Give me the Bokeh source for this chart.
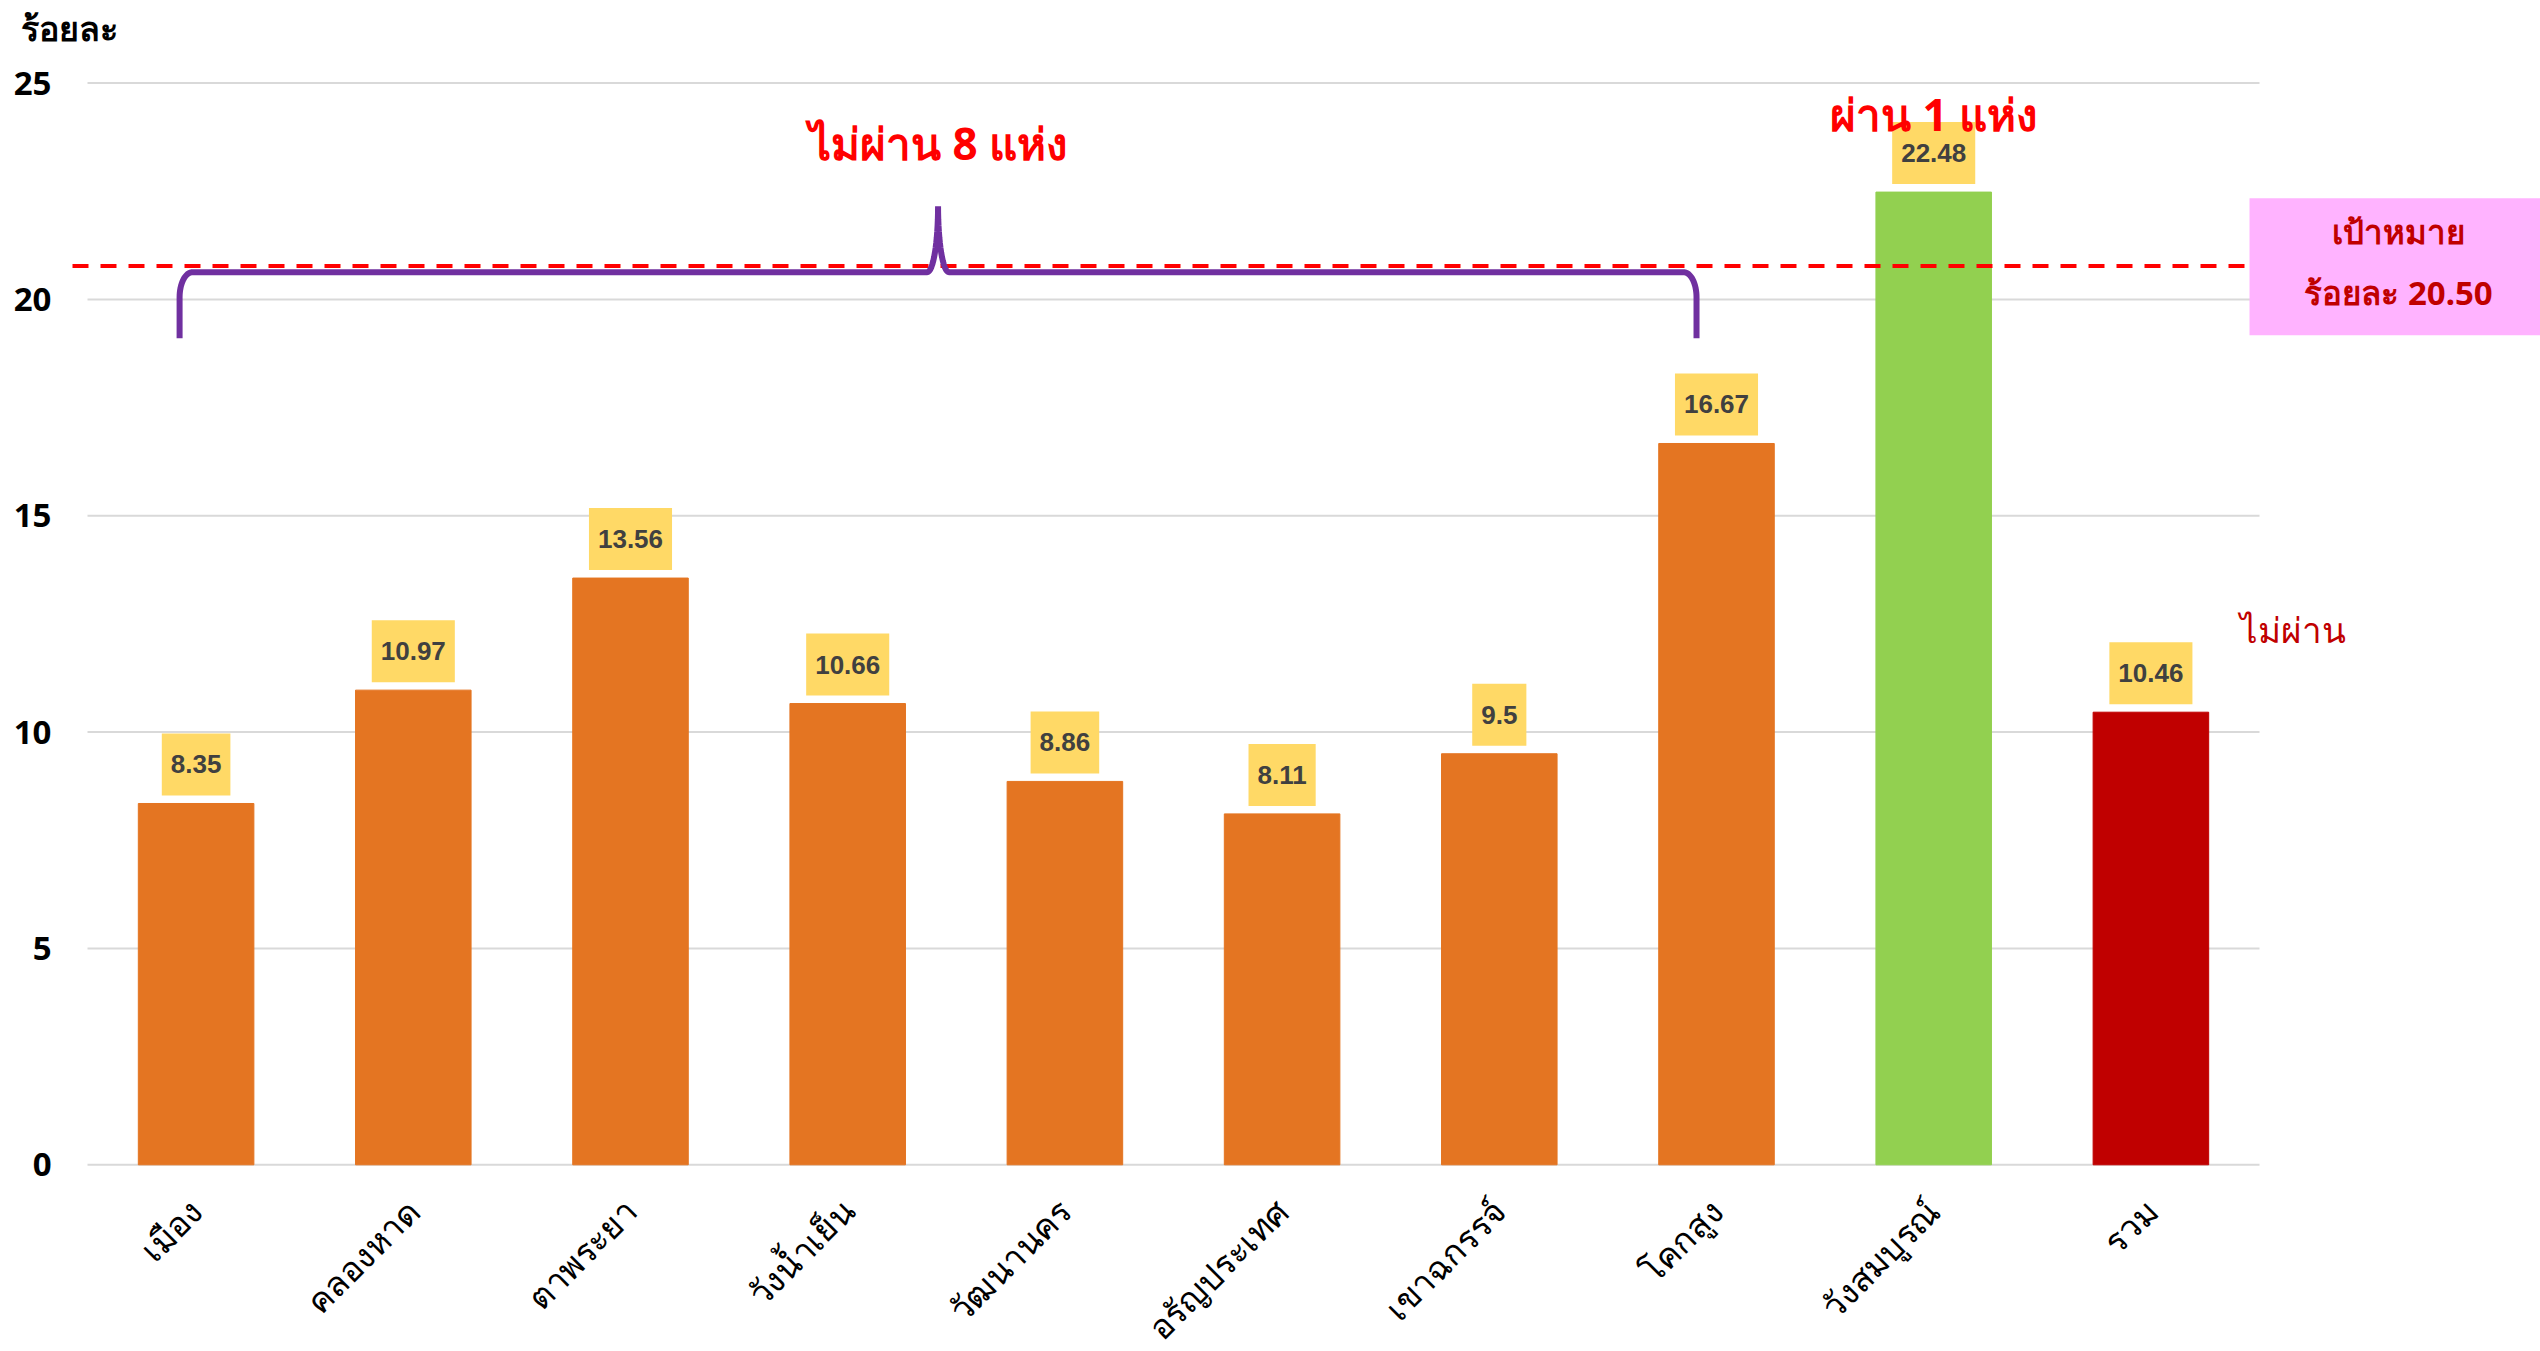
import math
from bokeh.plotting import figure
from bokeh.models import (Label, BoxAnnotation, Range1d,
                          FixedTicker, ColumnDataSource)
from bokeh.core.properties import value
from bokeh.embed import file_html
from bokeh.resources import INLINE

# ---------------- data ----------------
districts = ["เมือง", "คลองหาด", "ตาพระยา", "วังน้ำเย็น", "วัฒนานคร",
             "อรัญประเทศ", "เขาฉกรรจ์", "โคกสูง", "วังสมบูรณ์", "รวม"]
percent = [8.35, 10.97, 13.56, 10.66, 8.86, 8.11, 9.5, 16.67, 22.48, 10.46]
percent_labels = ["8.35", "10.97", "13.56", "10.66", "8.86", "8.11", "9.5",
                  "16.67", "22.48", "10.46"]
status = ["fail"] * 8 + ["pass", "total"]
y_ticks = [0, 5, 10, 15, 20, 25]
y_title = "ร้อยละ"
target_title = "เป้าหมาย"
target_text = "ร้อยละ 20.50"
target_drawn = 20.77          # where the dashed target line sits in the picture
fail_text = "ไม่ผ่าน 8 แห่ง"
pass_text = "ผ่าน 1 แห่ง"
total_text = "ไม่ผ่าน"

# ---------------- styles / layout ----------------
status_colors = {"fail": "#E47522", "pass": "#92D050", "total": "#C00000"}
bar_colors = [status_colors[s] for s in status]
THAI = "Noto Sans"
NUM = "Liberation Sans"

n = len(districts)
xpos = [i + 0.5 for i in range(n)]          # category centres

W, H = 2540, 1351
x0_px, px_per_cat = 87.0, 217.2              # where the category area starts
y0_px, px_per_unit = 1164.3, 43.27           # where the zero line sits
x_start = -x0_px / px_per_cat
x_end = (W - x0_px) / px_per_cat
y_end = y0_px / px_per_unit
y_start = -(H - y0_px) / px_per_unit
yaxis_at = -15 / px_per_cat

p = figure(x_range=Range1d(x_start, x_end), y_range=Range1d(y_start, y_end),
           width=W, height=H, output_backend="svg", toolbar_location=None,
           title=None, min_border=0, min_border_left=0, min_border_right=0,
           min_border_top=0, min_border_bottom=0)
p.outline_line_color = None
p.xgrid.grid_line_color = None
p.ygrid.grid_line_color = None

p.yaxis.fixed_location = yaxis_at
p.yaxis.ticker = FixedTicker(ticks=y_ticks)
p.yaxis.axis_line_color = None
p.yaxis.major_tick_line_color = None
p.yaxis.minor_tick_line_color = None
p.yaxis.major_tick_out = 0
p.yaxis.major_label_text_font = "Open Sans"
p.yaxis.major_label_text_font_style = "bold"
p.yaxis.major_label_text_font_size = "33px"
p.yaxis.major_label_text_color = "black"
p.yaxis.major_label_standoff = 21

p.xaxis.fixed_location = 0
p.xaxis.ticker = FixedTicker(ticks=xpos)
p.xaxis.major_label_overrides = {x: d for x, d in zip(xpos, districts)}
p.xaxis.axis_line_color = None
p.xaxis.major_tick_line_color = None
p.xaxis.minor_tick_line_color = None
p.xaxis.major_tick_out = 0
p.xaxis.major_label_orientation = math.pi / 4
p.xaxis.major_label_text_font = THAI
p.xaxis.major_label_text_font_size = "34px"
p.xaxis.major_label_text_color = "black"
p.xaxis.major_label_standoff = 40

# horizontal gridlines across the category area
p.segment(x0=[0] * len(y_ticks), x1=[n] * len(y_ticks), y0=y_ticks, y1=y_ticks,
          line_color="#D9D9D9", line_width=2)

src = ColumnDataSource(dict(x=xpos, top=percent, lab=percent_labels,
                            color=bar_colors))
p.vbar(x="x", top="top", width=0.532, color="color", source=src)

p.text(x="x", y="top", text="lab", source=src,
       text_align="center", text_baseline="bottom", y_offset=-8,
       text_font=value(NUM), text_font_style="bold", text_font_size="26px",
       text_color="#404040", background_fill_color="#FFD966",
       padding=dict(left=9, right=9, top=22, bottom=22))

# axis title
p.add_layout(Label(x=(20 - x0_px) / px_per_cat, y=26.27, text=y_title,
                   text_align="left", text_baseline="alphabetic",
                   text_font=THAI, text_font_style="bold",
                   text_font_size="34px", text_color="black"))

# target line (from the y-axis position to the right)
p.segment(x0=[yaxis_at], x1=[x_end], y0=[target_drawn], y1=[target_drawn],
          line_color="#FF0000", line_width=4, line_dash="16 12")

# brace over the failing districts
brace_left, brace_right = 0.424, 7.408
brace_bottom, brace_level, brace_tip = 19.1, 20.63, 22.15
cdx, cdy = 0.06, 0.58
tdx = 0.05
mid = (brace_left + brace_right) / 2
bx, by = [brace_left], [brace_bottom]
N = 16
for k in range(N + 1):
    t = k / N * math.pi / 2
    bx.append(brace_left + cdx - cdx * math.cos(t))
    by.append(brace_level - cdy + cdy * math.sin(t))
for k in range(N + 1):
    t = k / N * math.pi / 2
    bx.append(mid - tdx + tdx * math.sin(t))
    by.append(brace_tip - (brace_tip - brace_level) * math.cos(t))
for k in range(N, -1, -1):
    t = k / N * math.pi / 2
    bx.append(mid + tdx - tdx * math.sin(t))
    by.append(brace_tip - (brace_tip - brace_level) * math.cos(t))
for k in range(N, -1, -1):
    t = k / N * math.pi / 2
    bx.append(brace_right - cdx + cdx * math.cos(t))
    by.append(brace_level - cdy + cdy * math.sin(t))
bx.append(brace_right)
by.append(brace_bottom)
p.line(bx, by, line_color="#7030A0", line_width=6)

# target box on the right
p.add_layout(BoxAnnotation(left=9.954, top=22.34, bottom=19.17,
                           fill_color="#FFB3FF", fill_alpha=1, line_alpha=0))
p.add_layout(Label(x=10.64, y=21.57, text=target_title, text_align="center",
                   text_baseline="alphabetic", text_font=THAI,
                   text_font_style="bold", text_font_size="33px",
                   text_color="#C00000"))
p.add_layout(Label(x=10.64, y=20.15, text=target_text, text_align="center",
                   text_baseline="alphabetic", text_font=THAI,
                   text_font_style="bold", text_font_size="33px",
                   text_color="#C00000"))

p.add_layout(Label(x=mid, y=23.61, text=fail_text, text_align="center",
                   text_baseline="alphabetic", text_font=THAI,
                   text_font_style="bold", text_font_size="44px",
                   text_color="#FF0000"))
p.add_layout(Label(x=8.5, y=24.28, text=pass_text, text_align="center",
                   text_baseline="alphabetic", text_font=THAI,
                   text_font_style="bold", text_font_size="44px",
                   text_color="#FF0000"))
p.add_layout(Label(x=9.91, y=12.36, text=total_text, text_align="left",
                   text_baseline="alphabetic", text_font=THAI,
                   text_font_size="35px", text_color="#C00000"))

open("out.html", "w").write(file_html(p, INLINE))
